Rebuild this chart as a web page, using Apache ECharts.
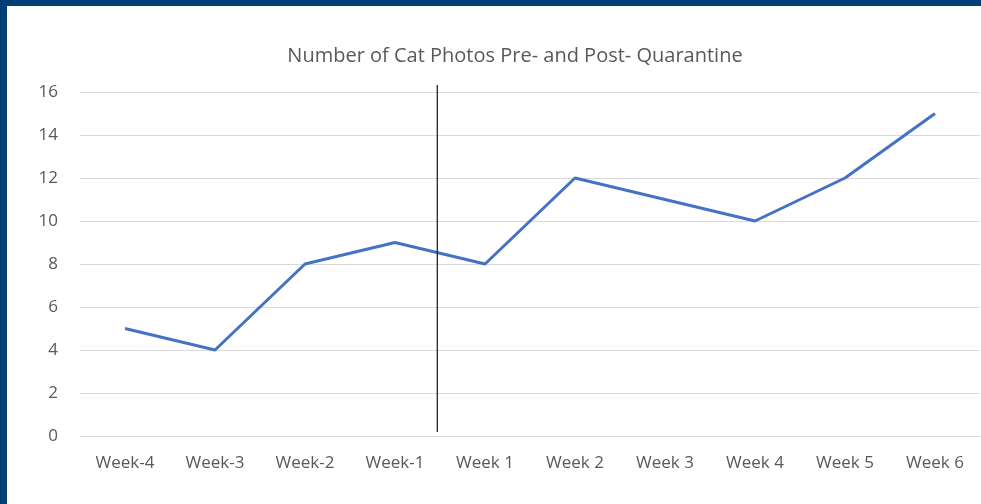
<!DOCTYPE html>
<html>
<head>
<meta charset="utf-8">
<script src="https://cdn.jsdelivr.net/npm/echarts@6/dist/echarts.min.js"></script>
<style>
  html, body { margin: 0; padding: 0; background: #fff; }
  #main { position: absolute; left: 0; top: 0; width: 981px; height: 504px; }
  .edge { position: absolute; background: #003e78; }
</style>
</head>
<body>
<div id="main"></div>
<div class="edge" style="left:0;top:0;width:981px;height:6px;"></div>
<div class="edge" style="left:0;top:0;width:7px;height:504px;"></div>
<script>
var weeks = ['Week-4','Week-3','Week-2','Week-1','Week 1','Week 2','Week 3','Week 4','Week 5','Week 6'];
var catPhotos = [5, 4, 8, 9, 8, 12, 11, 10, 12, 15];
// divider between pre and post quarantine weeks
var quarantineX = [3.97, 3.97];
var quarantineY = [16.33, 0.19];

var chart = echarts.init(document.getElementById('main'));
var labelFont = { color: '#595959', fontSize: 17, fontFamily: 'Open Sans' };

chart.setOption({
	animation: false,
	title: {
		text: 'Number of Cat Photos Pre- and Post- Quarantine',
		left: 510, top: 41, textAlign: 'center',
		textStyle: { color: '#595959', fontSize: 20, fontWeight: 'normal', fontFamily: 'Open Sans' }
	},
	grid: { left: 80, right: 1, top: 92, bottom: 68 },
	xAxis: [{
		type: 'category',
		data: weeks,
		axisLine: { lineStyle: { color: '#d9d9d9' } },
		axisTick: { show: false },
		axisLabel: Object.assign({ margin: 19 }, labelFont)
	}, {
		type: 'value', min: 0, max: 10, show: false
	}],
	yAxis: {
		type: 'value', min: 0, max: 16, interval: 2,
		axisLine: { show: false },
		axisTick: { show: false },
		splitLine: { lineStyle: { color: '#d9d9d9' } },
		axisLabel: Object.assign({ margin: 22 }, labelFont)
	},
	series: [{
		type: 'line',
		data: catPhotos,
		symbol: 'none',
		lineStyle: { color: '#4472c4', width: 3 }
	}, {
		type: 'line',
		xAxisIndex: 1,
		clip: false,
		symbol: 'none',
		silent: true,
		data: quarantineX.map(function(x, i){ return [x, quarantineY[i]]; }),
		lineStyle: { color: '#222', width: 1.3 }
	}]
});
</script>
</body>
</html>
